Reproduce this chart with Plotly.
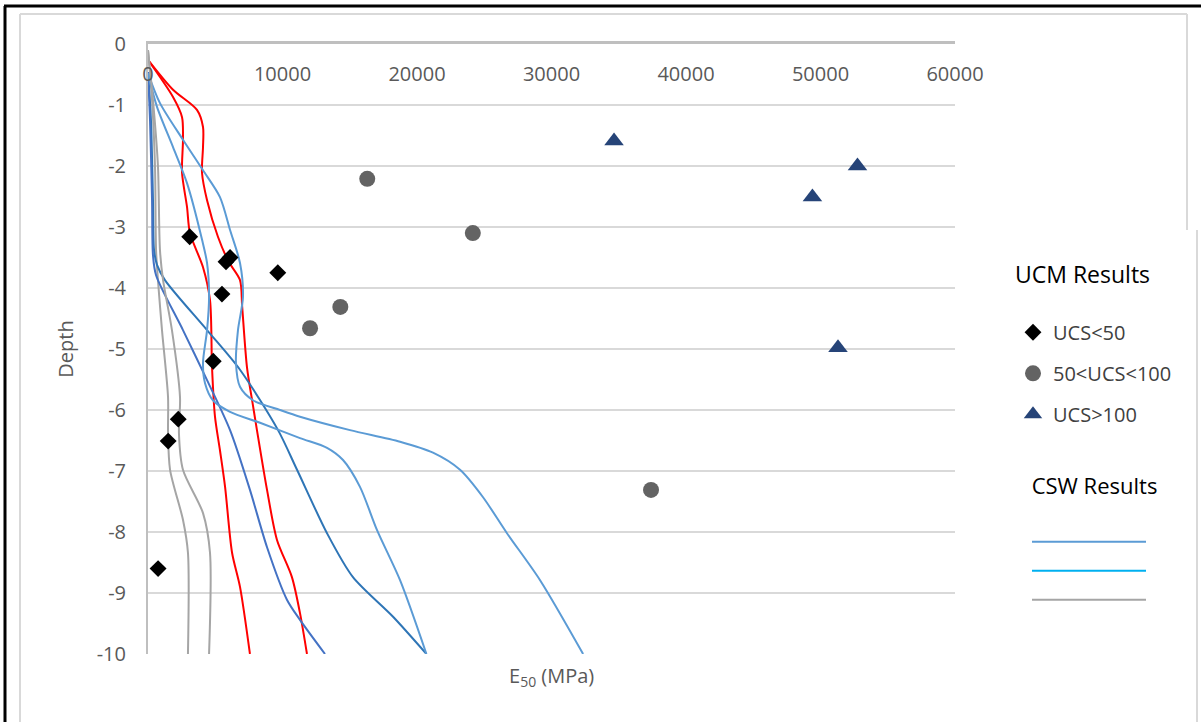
import plotly.graph_objects as go

# ---------------- data ----------------
x_tick_vals = [0, 10000, 20000, 30000, 40000, 50000, 60000]
x_tick_text = ["0", "10000", "20000", "30000", "40000", "50000", "60000"]
y_tick_vals = [0, -1, -2, -3, -4, -5, -6, -7, -8, -9, -10]
y_tick_text = ["0", "-1", "-2", "-3", "-4", "-5", "-6", "-7", "-8", "-9", "-10"]

# UCM results (markers)
ucs_lt50_e50 = [3100, 5800, 6100, 9650, 5500, 4850, 2250, 1500, 750]
ucs_lt50_depth = [-3.16, -3.57, -3.50, -3.75, -4.10, -5.20, -6.15, -6.51, -8.60]
ucs_50_100_e50 = [16300, 24150, 14300, 12050, 37400]
ucs_50_100_depth = [-2.21, -3.10, -4.31, -4.66, -7.31]
ucs_gt100_e50 = [34650, 52750, 49400, 51300]
ucs_gt100_depth = [-1.59, -2.00, -2.51, -4.98]

# CSW results (profiles)
red_a_e50 = [0, 1860, 2530, 2600, 2530, 2900, 3120, 4090, 4610, 4760, 4980, 5350, 5730, 6250, 6840, 7580]
red_a_depth = [-0.26, -0.87, -1.20, -1.57, -2.11, -2.67, -3.10, -3.66, -4.20, -5.30, -6.11, -6.66, -7.26, -8.34, -8.90, -10.0]
red_b_e50 = [0, 1860, 3640, 4090, 4090, 4015, 4390, 5200, 6000, 6840, 7000, 7360, 7800, 8100, 8850, 9590, 10700, 11300, 11820]
red_b_depth = [-0.26, -0.75, -1.08, -1.36, -1.69, -2.11, -2.56, -3.16, -3.57, -3.87, -4.30, -5.30, -5.92, -6.33, -7.31, -8.13, -8.74, -9.33, -10.0]

gray_a_e50 = [0, 300, 520, 600, 740, 1040, 1490, 1490, 1640, 2600, 2970, 2970]
gray_a_depth = [-0.10, -0.92, -2.00, -3.38, -3.87, -4.69, -5.79, -6.38, -6.98, -7.80, -8.34, -10.0]
gray_b_e50 = [0, 370, 740, 890, 1120, 1780, 2380, 2300, 2600, 4090, 4610, 4540]
gray_b_depth = [-0.10, -0.92, -2.00, -3.38, -3.87, -4.69, -5.79, -6.38, -6.98, -7.69, -8.34, -10.0]

dblue_a_e50 = [0, 220, 370, 450, 670, 1260, 4390, 6840, 9670, 11080, 13310, 15240, 18220, 20700]
dblue_a_depth = [-0.46, -1.25, -2.56, -3.38, -3.62, -3.87, -4.69, -5.34, -6.33, -6.98, -8.02, -8.74, -9.39, -10.0]
dblue_b_e50 = [0, 150, 300, 370, 600, 2600, 4390, 6100, 7580, 8850, 10330, 11300, 13160]
dblue_b_depth = [-0.46, -1.25, -2.56, -3.46, -3.79, -4.69, -5.51, -6.33, -7.31, -8.25, -9.11, -9.44, -10.0]

lblue_a_e50 = [0, 890, 2600, 4090, 5350, 6100, 6840, 7060, 6690, 6540, 6840, 7800, 9810, 11300, 15020, 18740, 21190, 23200, 24910, 26690, 29150, 32350]
lblue_a_depth = [-0.48, -0.97, -1.57, -2.07, -2.51, -3.05, -3.59, -4.15, -4.69, -5.23, -5.62, -5.84, -6.00, -6.11, -6.33, -6.52, -6.70, -6.98, -7.43, -8.02, -8.79, -10.0]
lblue_b_e50 = [0, 670, 1860, 2900, 4020, 4390, 4540, 4390, 4090, 4240, 4830, 6100, 8330, 11300, 13310, 14500, 15760, 17030, 18740, 20700]
lblue_b_depth = [-0.48, -1.03, -1.69, -2.28, -3.21, -3.59, -4.15, -4.69, -5.23, -5.56, -5.84, -6.03, -6.21, -6.46, -6.62, -6.82, -7.26, -7.97, -8.79, -10.0]

# ---------------- figure ----------------
W, H = 1201, 722
L, R, T, B = 148, 246, 44, 68
PW, PH = W - L - R, H - T - B


def px(xp):
    return (xp - L) / PW


def py(yp):
    return (H - B - yp) / PH


fig = go.Figure()

LW = 2
SPL = dict(shape="spline", smoothing=0.8)
fig.add_trace(go.Scatter(x=red_a_e50, y=red_a_depth, mode="lines", line=dict(color="#FF0000", width=LW, **SPL), showlegend=False))
fig.add_trace(go.Scatter(x=red_b_e50, y=red_b_depth, mode="lines", line=dict(color="#FF0000", width=LW, **SPL), showlegend=False))
fig.add_trace(go.Scatter(x=gray_a_e50, y=gray_a_depth, mode="lines", line=dict(color="#A5A5A5", width=LW, **SPL), showlegend=False))
fig.add_trace(go.Scatter(x=dblue_a_e50, y=dblue_a_depth, mode="lines", line=dict(color="#2E75B6", width=LW, **SPL), showlegend=False))
fig.add_trace(go.Scatter(x=dblue_b_e50, y=dblue_b_depth, mode="lines", line=dict(color="#4472C4", width=LW, **SPL), showlegend=False))
fig.add_trace(go.Scatter(x=lblue_b_e50, y=lblue_b_depth, mode="lines", line=dict(color="#5B9BD5", width=LW, **SPL), showlegend=False))

# CSW legend entries (legend2)
fig.add_trace(go.Scatter(x=lblue_a_e50, y=lblue_a_depth, mode="lines", name=" ",
                         line=dict(color="#5B9BD5", width=LW, **SPL),
                         legend="legend2", legendgroup="c1", legendrank=1))
fig.add_trace(go.Scatter(x=[None], y=[None], mode="lines", name=" ",
                         line=dict(color="#00B0F0", width=LW),
                         legend="legend2", legendgroup="c2", legendrank=2))
fig.add_trace(go.Scatter(x=gray_b_e50, y=gray_b_depth, mode="lines", name=" ",
                         line=dict(color="#A5A5A5", width=LW, **SPL),
                         legend="legend2", legendgroup="c3", legendrank=3))

# UCM markers (legend)
fig.add_trace(go.Scatter(x=ucs_lt50_e50, y=ucs_lt50_depth, mode="markers", name="UCS<50",
                         marker=dict(symbol="diamond", size=13, color="#000000"),
                         legendgroup="u1", legendrank=1))
fig.add_trace(go.Scatter(x=ucs_50_100_e50, y=ucs_50_100_depth, mode="markers", name="50<UCS<100",
                         marker=dict(symbol="circle", size=16, color="#636363"),
                         legendgroup="u2", legendrank=2))
fig.add_trace(go.Scatter(x=ucs_gt100_e50, y=ucs_gt100_depth, mode="markers", name="UCS>100",
                         marker=dict(symbol="triangle-up", size=17, color="#264478"),
                         legendgroup="u3", legendrank=3))

tick_font = dict(family="Open Sans", size=20, color="#595959")

shapes = [
    # outer black frame (top and left)
    dict(type="line", xref="paper", yref="paper", x0=px(4), x1=px(1201), y0=py(6), y1=py(6),
         line=dict(color="#000000", width=3), layer="above"),
    dict(type="line", xref="paper", yref="paper", x0=px(5), x1=px(5), y0=py(6), y1=py(722),
         line=dict(color="#000000", width=3), layer="above"),
    # inner light grey chart-area border
    dict(type="line", xref="paper", yref="paper", x0=px(20), x1=px(1187), y0=py(14), y1=py(14),
         line=dict(color="#D9D9D9", width=2), layer="above"),
    dict(type="line", xref="paper", yref="paper", x0=px(20), x1=px(20), y0=py(14), y1=py(722),
         line=dict(color="#D9D9D9", width=2), layer="above"),
    dict(type="line", xref="paper", yref="paper", x0=px(1187), x1=px(1187), y0=py(14), y1=py(230),
         line=dict(color="#D9D9D9", width=2), layer="above"),
    dict(type="line", xref="paper", yref="paper", x0=px(1197), x1=px(1197), y0=py(230), y1=py(722),
         line=dict(color="#D9D9D9", width=2), layer="above"),
]

fig.update_layout(
    width=W, height=H,
    margin=dict(l=L, r=R, t=T, b=B, pad=0),
    paper_bgcolor="white", plot_bgcolor="white",
    font=dict(family="Open Sans", color="#595959"),
    shapes=shapes,
    xaxis=dict(
        range=[0, 60000], side="top",
        tickmode="array", tickvals=x_tick_vals, ticktext=x_tick_text,
        ticklabelposition="inside", ticklabeloverflow="allow", ticklabelstandoff=24,
        showline=True, linecolor="#BFBFBF", linewidth=2.5,
        showgrid=False, zeroline=False, ticks="",
        tickfont=tick_font, fixedrange=True,
    ),
    yaxis=dict(
        range=[-10, 0],
        tickmode="array", tickvals=y_tick_vals, ticktext=y_tick_text,
        showline=True, linecolor="#BFBFBF", linewidth=2,
        showgrid=True, gridcolor="#D9D9D9", gridwidth=2,
        zeroline=False, ticks="", ticklabelstandoff=16,
        tickfont=tick_font,
        title=dict(text="Depth", font=dict(family="Open Sans", size=20, color="#595959"), standoff=18),
        automargin=False,
    ),
    annotations=[
        dict(text="E<sub>50</sub> (MPa)", xref="paper", yref="paper", x=0.5, y=py(676),
             xanchor="center", yanchor="middle", showarrow=False,
             font=dict(family="Open Sans", size=20, color="#595959")),
    ],
    legend=dict(
        x=px(1013), y=py(253), xanchor="left", yanchor="top",
        title=dict(text="UCM Results<br> ", font=dict(family="Open Sans", size=23, color="#000000"), side="top"),
        font=dict(family="Open Sans", size=20, color="#404040"),
        bgcolor="rgba(0,0,0,0)", borderwidth=0,
        traceorder="grouped", tracegroupgap=12, itemwidth=30,
    ),
    legend2=dict(
        x=px(1027), y=py(465), xanchor="left", yanchor="top",
        title=dict(text="CSW Results<br> ", font=dict(family="Open Sans", size=22, color="#000000"), side="top center"),
        font=dict(family="Open Sans", size=20, color="#404040"),
        bgcolor="rgba(0,0,0,0)", borderwidth=0,
        traceorder="grouped", tracegroupgap=0, itemwidth=114,
    ),
)

fig.write_html("out.html")
